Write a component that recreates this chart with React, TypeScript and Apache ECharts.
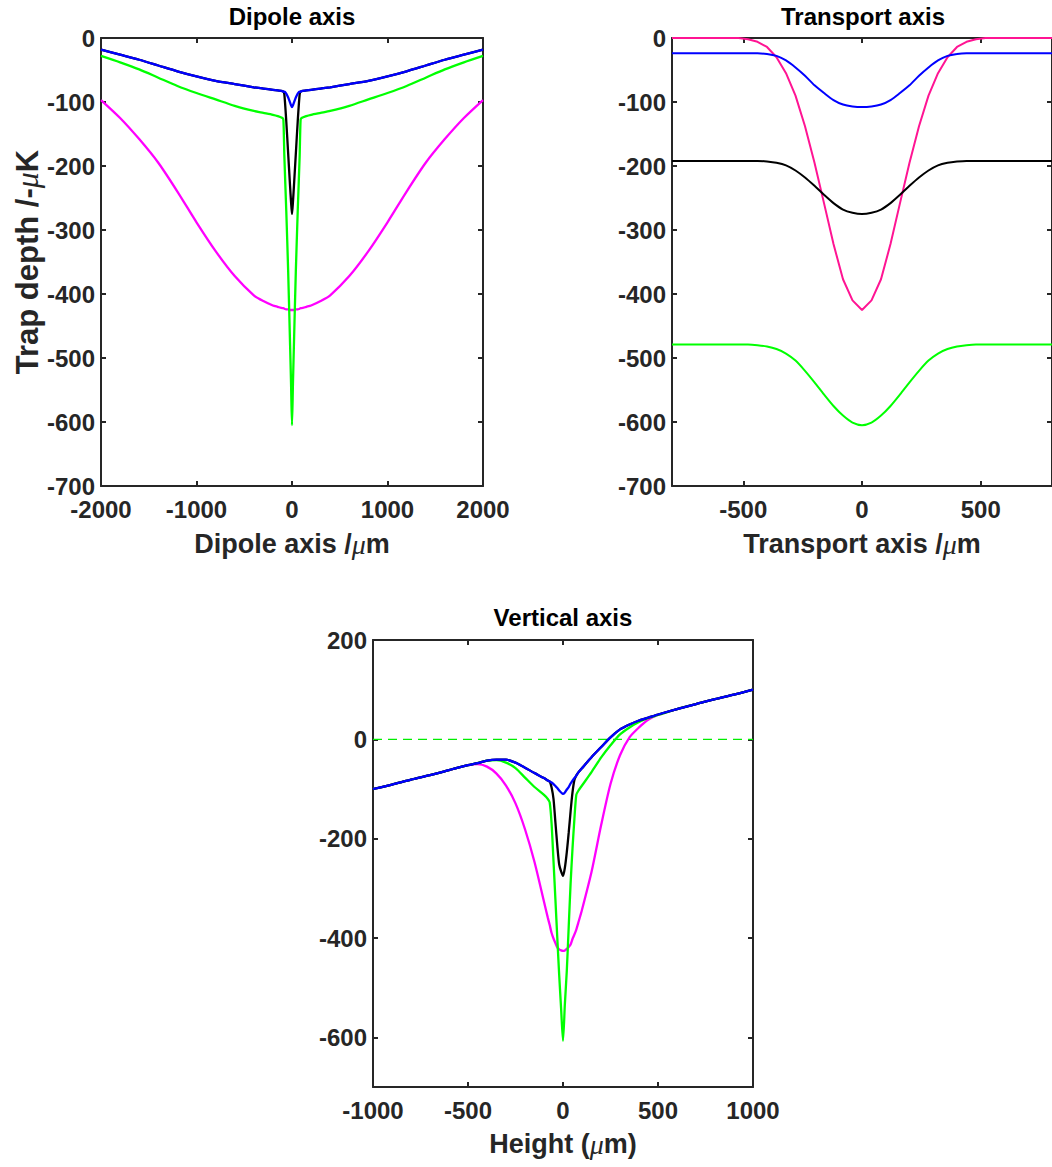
import React, { useEffect, useRef } from "react";
import * as echarts from "echarts";

// ---- Dipole axis panel ----
const dipoleX = [-2000, -1800, -1600, -1400, -1200, -1000, -800, -600, -400, -300, -200, -150, -100, -90, -80, -60, -40, -20, -10, 0, 10, 20, 40, 60, 80, 90, 100, 150, 200, 300, 400, 600, 800, 1000, 1200, 1400, 1600, 1800, 2000];
const dipoleBlue = [-18, -26, -34, -43, -52, -60, -67, -72, -77, -79, -81, -82, -83, -84, -84, -87, -93, -101, -105, -108, -105, -101, -93, -87, -84, -84, -83, -82, -81, -79, -77, -72, -67, -60, -52, -43, -34, -26, -18];
const dipoleBlack = [-18, -26, -34, -43, -52, -60, -67, -72, -77, -79, -81, -82, -83, -84, -88, -130, -181, -232, -256, -275, -256, -232, -181, -130, -88, -84, -83, -82, -81, -79, -77, -72, -67, -60, -52, -43, -34, -26, -18];
const dipoleGreen = [-28, -38, -49, -62, -75, -86, -96, -106, -114, -117, -120, -122, -125, -128, -185, -270, -365, -480, -540, -605, -540, -480, -365, -270, -185, -128, -125, -122, -120, -117, -114, -106, -96, -86, -75, -62, -49, -38, -28];
const dipoleMagenta = [-97, -125, -158, -195, -240, -288, -333, -372, -402, -411, -418, -420, -422, -422, -423, -424, -424, -425, -425, -425, -425, -425, -424, -424, -423, -422, -422, -420, -418, -411, -402, -372, -333, -288, -240, -195, -158, -125, -97];

// ---- Transport axis panel ----
const transportX = [-800, -760, -720, -680, -640, -600, -560, -520, -480, -440, -400, -360, -320, -280, -240, -200, -160, -120, -80, -40, 0, 40, 80, 120, 160, 200, 240, 280, 320, 360, 400, 440, 480, 520, 560, 600, 640, 680, 720, 760, 800];
const transportPink = [0, 0, 0, 0, 0, 0, 0, 0, -2, -6, -14, -30, -55, -90, -138, -195, -258, -322, -377, -410, -425, -410, -377, -322, -258, -195, -138, -90, -55, -30, -14, -6, -2, 0, 0, 0, 0, 0, 0, 0, 0];
const transportBlue = [-24, -24, -24, -24, -24, -24, -24, -24, -24, -24, -25, -28, -35, -46, -59, -74, -86, -97, -104, -107, -108, -107, -104, -97, -86, -74, -59, -46, -35, -28, -25, -24, -24, -24, -24, -24, -24, -24, -24, -24, -24];
const transportBlack = [-192, -192, -192, -192, -192, -192, -192, -192, -192, -192, -193, -195, -199, -207, -218, -231, -245, -258, -268, -273, -275, -273, -268, -258, -245, -231, -218, -207, -199, -195, -193, -192, -192, -192, -192, -192, -192, -192, -192, -192, -192];
const transportGreen = [-479, -479, -479, -479, -479, -479, -479, -479, -479, -480, -482, -486, -493, -504, -520, -538, -557, -575, -590, -601, -605, -601, -590, -575, -557, -538, -520, -504, -493, -486, -482, -480, -479, -479, -479, -479, -479, -479, -479, -479, -479];
const transportTicks = [-500, 0, 500];

// ---- Vertical axis panel ----
const verticalX = [-1000, -900, -800, -700, -600, -500, -450, -400, -350, -300, -250, -200, -150, -100, -80, -70, -60, -50, -40, -30, -20, -10, 0, 10, 20, 30, 40, 50, 60, 70, 80, 100, 150, 200, 250, 300, 350, 400, 450, 500, 600, 700, 800, 900, 1000];
const verticalBlue = [-100, -91, -81, -72, -62, -52, -48, -43, -41, -41, -47, -57, -68, -78, -83, -85, -87, -90, -94, -98, -103, -107, -110, -107, -101, -96, -89, -83, -78, -73, -67, -58, -36, -16, 4, 20, 30, 38, 44, 50, 61, 71, 81, 90, 100];
const verticalBlack = [-100, -91, -81, -72, -62, -52, -48, -43, -41, -41, -47, -57, -68, -78, -83, -85, -97, -120, -167, -214, -252, -266, -275, -258, -227, -188, -145, -107, -82, -73, -67, -58, -36, -16, 4, 20, 30, 38, 44, 50, 61, 71, 81, 90, 100];
const verticalGreen = [-100, -91, -81, -72, -62, -52, -48, -43, -42, -47, -58, -77, -96, -112, -120, -127, -170, -245, -322, -400, -475, -542, -607, -532, -466, -378, -290, -220, -160, -112, -104, -93, -66, -37, -12, 10, 24, 35, 43, 49, 61, 71, 81, 90, 100];
const verticalMagenta = [-100, -91, -81, -72, -62, -52, -50, -55, -69, -93, -129, -181, -247, -327, -359, -374, -390, -401, -410, -419, -423, -425, -426, -425, -422, -418, -413, -402, -393, -383, -370, -343, -267, -174, -90, -32, 4, 24, 40, 49, 61, 71, 81, 90, 100];
const zeroLineX = [-1000, 1000];
const zeroLineY = [0, 0];
const verticalYTicks = [-600, -400, -200, 0, 200];

const AXIS_COLOR = "#262626";
const FONT = "'Liberation Sans', Arial, Helvetica, sans-serif";

const pairs = (xs: number[], ys: number[]) => xs.map((x, i) => [x, ys[i]]);

const muStyle = (size: number) => ({
  mu: {
    fontFamily: "'Liberation Serif', 'DejaVu Serif', serif",
    fontStyle: "italic",
    fontWeight: "normal",
    fontSize: size + 1,
    color: AXIS_COLOR,
  },
});

function axisPair(
  kind: "x" | "y",
  grid: number,
  min: number,
  max: number,
  opts: { interval?: number; custom?: number[]; name?: string; nameGap?: number; nameSize?: number }
) {
  const base: any = {
    gridIndex: grid,
    type: "value",
    min,
    max,
    splitLine: { show: false },
    axisLine: { show: true, onZero: false, lineStyle: { color: AXIS_COLOR, width: 2 } },
    axisTick: { show: true, inside: true, length: 5, lineStyle: { color: AXIS_COLOR, width: 2 } },
  };
  if (opts.interval !== undefined) base.interval = opts.interval;
  if (opts.custom) base.axisTick.customValues = opts.custom;
  const main: any = {
    ...base,
    position: kind === "x" ? "bottom" : "left",
    axisLabel: {
      show: true,
      color: AXIS_COLOR,
      fontFamily: FONT,
      fontWeight: "bold",
      fontSize: 24,
      margin: kind === "x" ? 11 : 6,
      formatter: (v: number) => String(v),
      ...(opts.custom ? { customValues: opts.custom } : {}),
    },
  };
  if (opts.name) {
    const size = opts.nameSize ?? 27;
    main.name = opts.name;
    main.nameLocation = "middle";
    main.nameGap = opts.nameGap;
    main.nameTextStyle = {
      color: AXIS_COLOR,
      fontFamily: FONT,
      fontWeight: "bold",
      fontSize: size,
      rich: muStyle(size),
    };
  }
  const mirror: any = {
    ...base,
    position: kind === "x" ? "top" : "right",
    axisLabel: { show: false },
  };
  return [main, mirror];
}

function line(
  name: string,
  grid: number,
  data: number[][],
  color: string,
  smooth: number | boolean,
  width = 2.3,
  extra: any = {}
) {
  return {
    name,
    type: "line",
    xAxisIndex: grid * 2,
    yAxisIndex: grid * 2,
    data,
    showSymbol: false,
    symbol: "none",
    smooth,
    lineStyle: { color, width },
    itemStyle: { color },
    emphasis: { disabled: true },
    silent: true,
    z: 2,
    ...extra,
  };
}

function titleText(text: string, x: number, y: number) {
  return {
    type: "text",
    x,
    y,
    style: {
      text,
      fill: "#000000",
      font: `bold 24px ${FONT}`,
      textAlign: "center",
      textVerticalAlign: "middle",
    },
  };
}

export default function App() {
  const ref = useRef<HTMLDivElement>(null);

  useEffect(() => {
    if (!ref.current) return;
    const chart = echarts.init(ref.current, undefined, { renderer: "svg" });

    const xAxes = [
      ...axisPair("x", 0, -2000, 2000, { interval: 1000, name: "Dipole axis /{mu|μ}m", nameGap: 44 }),
      ...axisPair("x", 1, -800, 800, { custom: transportTicks, name: "Transport axis /{mu|μ}m", nameGap: 44 }),
      ...axisPair("x", 2, -1000, 1000, { interval: 500, name: "Height ({mu|μ}m)", nameGap: 43 }),
    ];
    const yAxes = [
      ...axisPair("y", 0, -700, 0, { interval: 100, name: "Trap depth /-{mu|μ}K", nameGap: 57, nameSize: 31 }),
      ...axisPair("y", 1, -700, 0, { interval: 100 }),
      ...axisPair("y", 2, -700, 200, { custom: verticalYTicks }),
    ];

    chart.setOption({
      animation: false,
      backgroundColor: "#ffffff",
      grid: [
        { left: 101, top: 38, width: 382, height: 448 },
        { left: 672, top: 38, width: 383, height: 448 },
        { left: 373, top: 640, width: 380, height: 447 },
      ],
      xAxis: xAxes,
      yAxis: yAxes,
      graphic: [
        titleText("Dipole axis", 292, 16),
        titleText("Transport axis", 863, 16),
        titleText("Vertical axis", 563, 617),
      ],
      series: [
        line("Dipole magenta", 0, pairs(dipoleX, dipoleMagenta), "#ff00ff", 0.25),
        line("Dipole green", 0, pairs(dipoleX, dipoleGreen), "#00ff00", 0.25),
        line("Dipole black", 0, pairs(dipoleX, dipoleBlack), "#000000", 0.25),
        line("Dipole blue", 0, pairs(dipoleX, dipoleBlue), "#0000ff", 0.25),

        line("Transport pink", 1, pairs(transportX, transportPink), "#ff1493", false, 2),
        line("Transport blue", 1, pairs(transportX, transportBlue), "#0000ff", 0.25, 2),
        line("Transport black", 1, pairs(transportX, transportBlack), "#000000", 0.25, 2),
        line("Transport green", 1, pairs(transportX, transportGreen), "#00ff00", 0.25, 2),

        line("Zero level", 2, pairs(zeroLineX, zeroLineY), "#00ff00", false, 1, {
          lineStyle: { color: "#00ee00", width: 1.2, type: [9, 6] },
          z: 1,
        }),
        line("Vertical magenta", 2, pairs(verticalX, verticalMagenta), "#ff00ff", 0.25),
        line("Vertical green", 2, pairs(verticalX, verticalGreen), "#00ff00", 0.25),
        line("Vertical black", 2, pairs(verticalX, verticalBlack), "#000000", 0.25),
        line("Vertical blue", 2, pairs(verticalX, verticalBlue), "#0000ff", 0.25),
      ],
    });

    return () => chart.dispose();
  }, []);

  return (
    <div
      ref={ref}
      style={{
        position: "absolute",
        left: 0,
        top: 0,
        width: 1052,
        height: 1167,
        overflow: "hidden",
        background: "#ffffff",
      }}
    />
  );
}
